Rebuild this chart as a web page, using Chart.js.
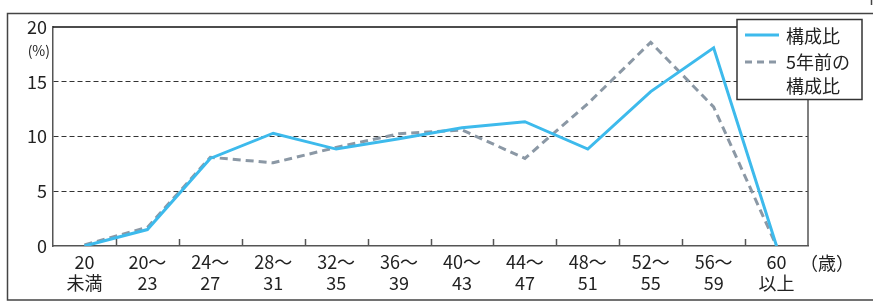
<!DOCTYPE html>
<html>
<head>
<meta charset="utf-8">
<script src="https://cdn.jsdelivr.net/npm/chart.js@4.4.0/dist/chart.umd.min.js"></script>
<style>
html, body { margin: 0; padding: 0; background: #fff; }
#wrap { width: 873px; height: 301px; }
</style>
</head>
<body>
<div id="wrap"><canvas id="chart" width="873" height="301"></canvas></div>
<script>
// age groups (x axis), two lines each
const ageGroups = [
    ['20', '未満'], ['20～', '23'], ['24～', '27'], ['28～', '31'],
    ['32～', '35'], ['36～', '39'], ['40～', '43'], ['44～', '47'],
    ['48～', '51'], ['52～', '55'], ['56～', '59'], ['60', '以上']
];
// composition ratio (%) now and 5 years ago
const shareNow = [0, 1.5, 8.0, 10.3, 8.85, 9.8, 10.8, 11.35, 8.85, 14.1, 18.1, 0];
const sharePrev = [0.1, 1.7, 8.1, 7.6, 9.0, 10.25, 10.6, 8.0, 13.0, 18.6, 12.7, 0];
const yTicks = [0, 5, 10, 15, 20];
const seriesNames = ['構成比', '5年前の構成比'];

const font = '"Noto Sans CJK JP", "Noto Sans", sans-serif';
const blue = '#3dbaec';
const gray = '#8b98a5';
const textColor = '#222';

// frame, plot borders, tick marks, unit labels and legend
const decorations = {
    id: 'decorations',
    afterDatasetsDraw(chart) {
        const ctx = chart.ctx;
        const a = chart.chartArea;
        const x = chart.scales.x;
        ctx.save();

        // outer frame
        ctx.strokeStyle = '#444';
        ctx.lineWidth = 1.5;
        ctx.beginPath();
        ctx.moveTo(880, 13.5);
        ctx.lineTo(7.5, 13.5);
        ctx.lineTo(7.5, 300);
        ctx.lineTo(880, 300);
        ctx.stroke();
        ctx.beginPath();
        ctx.moveTo(871.5, 0);
        ctx.lineTo(871.5, 5);
        ctx.stroke();

        // plot top and right border
        ctx.strokeStyle = '#111';
        ctx.lineWidth = 1.5;
        ctx.beginPath();
        ctx.moveTo(a.left, a.top);
        ctx.lineTo(a.right, a.top);
        ctx.stroke();
        ctx.strokeStyle = '#555';
        ctx.beginPath();
        ctx.moveTo(a.right, a.top);
        ctx.lineTo(a.right, a.bottom);
        ctx.stroke();

        // inward tick marks between categories
        ctx.lineWidth = 1.5;
        ctx.strokeStyle = '#555';
        for (let i = 0; i < ageGroups.length - 1; i++) {
            const px = Math.round((x.getPixelForValue(i) + x.getPixelForValue(i + 1)) / 2) + 0.5;
            ctx.beginPath();
            ctx.moveTo(px, a.bottom);
            ctx.lineTo(px, a.bottom - 7);
            ctx.stroke();
        }

        // unit labels
        ctx.fillStyle = textColor;
        ctx.font = '14px ' + font;
        ctx.textAlign = 'right';
        ctx.textBaseline = 'middle';
        ctx.fillText('(%)', 50, 51);
        ctx.font = '18px ' + font;
        ctx.textAlign = 'center';
        ctx.fillText('（歳）', 827, 263);

        // legend
        ctx.fillStyle = '#fff';
        ctx.fillRect(737, 19.5, 125, 80);
        ctx.strokeStyle = '#333';
        ctx.lineWidth = 1.5;
        ctx.strokeRect(737, 19.5, 125, 80);

        ctx.lineWidth = 3;
        ctx.strokeStyle = blue;
        ctx.beginPath();
        ctx.moveTo(745, 35);
        ctx.lineTo(779, 35);
        ctx.stroke();
        ctx.strokeStyle = gray;
        ctx.setLineDash([7, 5]);
        ctx.beginPath();
        ctx.moveTo(745, 62);
        ctx.lineTo(779, 62);
        ctx.stroke();
        ctx.setLineDash([]);

        ctx.fillStyle = textColor;
        ctx.font = '18px ' + font;
        ctx.textAlign = 'left';
        ctx.fillText(seriesNames[0], 786, 36);
        ctx.fillText(seriesNames[1].slice(0, 4), 786, 62);
        ctx.fillText(seriesNames[1].slice(4), 786, 86);

        ctx.restore();
    }
};

new Chart(document.getElementById('chart'), {
    type: 'line',
    data: {
        labels: ageGroups,
        datasets: [
            {
                label: seriesNames[0],
                data: shareNow,
                borderColor: blue,
                borderWidth: 3,
                pointRadius: 0,
                tension: 0,
                fill: false
            },
            {
                label: seriesNames[1],
                data: sharePrev,
                borderColor: gray,
                borderWidth: 3,
                borderDash: [8, 5],
                pointRadius: 0,
                tension: 0,
                fill: false
            }
        ]
    },
    options: {
        responsive: false,
        animation: false,
        layout: { padding: { left: 0, top: 27, right: 65, bottom: 0 } },
        plugins: {
            legend: { display: false },
            tooltip: { enabled: false }
        },
        scales: {
            x: {
                offset: true,
                afterFit: s => { s.height = 55; },
                grid: { display: true, drawOnChartArea: false, drawTicks: false },
                border: { display: true, color: '#555', width: 1.5 },
                ticks: {
                    color: textColor,
                    padding: 5,
                    maxRotation: 0,
                    autoSkip: false,
                    font: { family: font, size: 18, lineHeight: 1.2 }
                }
            },
            y: {
                min: 0,
                max: 20,
                afterFit: s => { s.width = 53; },
                afterBuildTicks: s => { s.ticks = yTicks.map(v => ({ value: v })); },
                grid: {
                    drawTicks: false,
                    color: c => (c.tick && (c.tick.value === 0 || c.tick.value === 20)) ? 'rgba(0,0,0,0)' : '#333',
                    lineWidth: 1
                },
                border: { display: true, color: '#555', width: 1.5, dash: [5, 3] },
                ticks: {
                    color: textColor,
                    padding: 6,
                    font: { family: font, size: 18 }
                }
            }
        }
    },
    plugins: [decorations]
});
</script>
</body>
</html>
